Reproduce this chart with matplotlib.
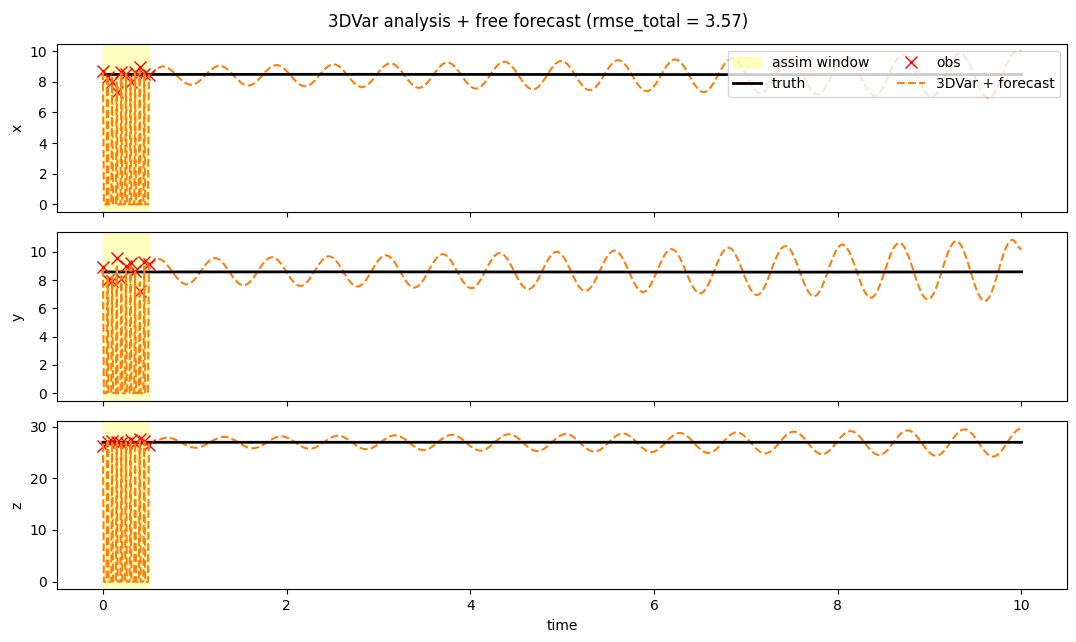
import matplotlib
matplotlib.use("Agg")
import matplotlib.pyplot as plt
from matplotlib.path import Path
from matplotlib.patches import PathPatch
from matplotlib.ticker import MultipleLocator

# observation times inside the assimilation window
obs_t = [0.0, 0.05, 0.1, 0.15, 0.2, 0.25, 0.3, 0.35, 0.4, 0.45, 0.5]
x_obs = [8.70, 8.33, 8.00, 7.35, 8.62, 8.49, 8.00, 8.62, 8.94, 8.50, 8.45]
y_obs = [8.95, 8.00, 7.95, 9.55, 8.05, 9.00, 9.25, 8.65, 7.20, 9.30, 9.15]
z_obs = [26.3, 27.0, 27.2, 27.1, 26.8, 26.9, 27.3, 26.9, 27.6, 27.2, 26.4]

# 3DVar analysis values at the obs times (zero in between)
x_ana = [8.60, 8.40, 8.25, 7.95, 8.55, 8.48, 8.25, 8.55, 8.70, 8.48, 8.47]
y_ana = [8.80, 8.30, 8.25, 9.10, 8.30, 8.80, 8.95, 8.60, 7.85, 9.00, 9.10]
z_ana = [26.6, 27.0, 27.1, 27.0, 26.9, 27.0, 27.2, 27.0, 27.3, 27.1, 26.8]

# truth (sits near the fixed point)
truth_t = [0.0, 2.5, 5.0, 7.5, 10.0]
x_truth = [8.47, 8.48, 8.47, 8.46, 8.47]
y_truth = [8.58, 8.59, 8.58, 8.57, 8.59]
z_truth = [26.95, 26.95, 26.96, 26.95, 26.95]

# free forecast after the window: start value, then successive peaks / troughs
x_fc_t = [0.5, 0.65, 0.96, 1.27, 1.58, 1.89, 2.20, 2.51, 2.82, 3.13, 3.44, 3.75, 4.06,
          4.37, 4.68, 4.99, 5.30, 5.61, 5.92, 6.23, 6.54, 6.85, 7.16, 7.47, 7.78,
          8.09, 8.40, 8.71, 9.02, 9.33, 9.64, 9.95, 10.0]
x_fc_v = [8.47, 9.00, 7.80, 9.03, 7.75, 9.08, 7.70, 9.13, 7.65, 9.19, 7.60, 9.25, 7.55,
          9.30, 7.50, 9.35, 7.45, 9.40, 7.38, 9.45, 7.32, 9.52, 7.25, 9.60, 7.17,
          9.67, 7.10, 9.75, 7.02, 9.85, 6.95, 9.98, 9.97]

y_fc_t = [0.5, 0.60, 0.91, 1.22, 1.53, 1.84, 2.15, 2.46, 2.77, 3.08, 3.39, 3.70, 4.01,
          4.32, 4.63, 4.94, 5.25, 5.57, 5.88, 6.19, 6.50, 6.81, 7.12, 7.43, 7.74,
          8.05, 8.36, 8.67, 8.98, 9.29, 9.60, 9.90, 10.0]
y_fc_v = [9.10, 9.50, 7.71, 9.56, 7.64, 9.62, 7.59, 9.69, 7.55, 9.76, 7.48, 9.84, 7.43,
          9.92, 7.36, 10.01, 7.24, 10.10, 7.16, 10.20, 7.07, 10.30, 6.95, 10.41, 6.86,
          10.52, 6.76, 10.64, 6.64, 10.76, 6.52, 10.85, 10.20]

z_fc_t = [0.5, 0.70, 1.01, 1.32, 1.63, 1.94, 2.25, 2.56, 2.87, 3.18, 3.49, 3.80, 4.11,
          4.42, 4.73, 5.04, 5.35, 5.66, 5.97, 6.28, 6.59, 6.90, 7.21, 7.52, 7.83,
          8.14, 8.45, 8.76, 9.07, 9.38, 9.69, 10.0]
z_fc_v = [26.8, 27.85, 25.90, 28.00, 25.80, 28.10, 25.70, 28.20, 25.60, 28.30, 25.45,
          28.40, 25.35, 28.50, 25.25, 28.55, 25.15, 28.65, 25.05, 28.75, 24.90, 28.85,
          24.80, 29.00, 24.65, 29.10, 24.50, 29.25, 24.35, 29.45, 24.20, 29.60]

dt = 0.01


def window_series(ana):
    # analysis only stored at obs steps, zeros in between
    t, v = [], []
    n = len(obs_t)
    for i in range(n):
        if i > 0:
            t.append(obs_t[i] - dt)
            v.append(0.0)
        t.append(obs_t[i])
        v.append(ana[i])
        if i < n - 1:
            t.append(obs_t[i] + dt)
            v.append(0.0)
    return t, v


def smooth_path(ts, vs):
    # cubic segments with flat tangents at each turning point
    verts = [(ts[0], vs[0])]
    codes = [Path.MOVETO]
    for i in range(len(ts) - 1):
        h = (ts[i + 1] - ts[i]) * 0.363
        verts += [(ts[i] + h, vs[i]), (ts[i + 1] - h, vs[i + 1]), (ts[i + 1], vs[i + 1])]
        codes += [Path.CURVE4] * 3
    return Path(verts, codes)


fig, axes = plt.subplots(3, 1, figsize=(10.76, 6.42), dpi=100, sharex=True)

panels = [
    ("x", x_obs, x_ana, x_truth, x_fc_t, x_fc_v, 2),
    ("y", y_obs, y_ana, y_truth, y_fc_t, y_fc_v, 2),
    ("z", z_obs, z_ana, z_truth, z_fc_t, z_fc_v, 10),
]

for ax, (name, obs, ana, truth, fc_t, fc_v, step) in zip(axes, panels):
    span = ax.axvspan(obs_t[0], obs_t[-1], color="yellow", alpha=0.25, label="assim window")
    tr, = ax.plot(truth_t, truth, color="black", lw=2, label="truth")
    ob, = ax.plot(obs_t, obs, "x", color="red", ms=8, label="obs")
    wt, wv = window_series(ana)
    fc, = ax.plot(wt, wv, "--", color="C1", lw=1.5, label="3DVar + forecast")
    ax.add_patch(PathPatch(smooth_path(fc_t, fc_v), facecolor="none", edgecolor="C1",
                           lw=1.5, ls="--"))
    ax.autoscale_view()
    ax.yaxis.set_major_locator(MultipleLocator(step))
    ax.set_ylabel(name)
    if name == "x":
        ax.legend([span, tr, ob, fc], ["assim window", "truth", "obs", "3DVar + forecast"],
                  loc="upper right", ncol=2)

axes[-1].set_xlabel("time")
fig.suptitle("3DVar analysis + free forecast (rmse_total = 3.57)")
fig.subplots_adjust(left=0.053, right=0.992, top=0.932, bottom=0.082, hspace=0.12)
fig.savefig("out.png")
